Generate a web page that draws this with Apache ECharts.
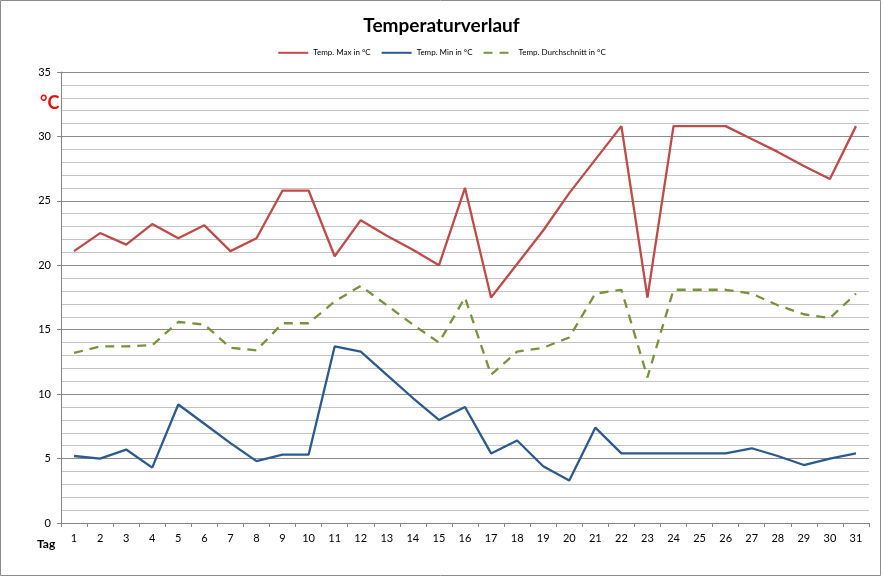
<!DOCTYPE html>
<html><head><meta charset="utf-8">
<script src="https://cdn.jsdelivr.net/npm/echarts@6/dist/echarts.min.js"></script>
<style>html,body{margin:0;padding:0;background:#fff}#c{width:883px;height:578px}</style>
</head><body><div id="c"></div>
<script>
const days = ['1','2','3','4','5','6','7','8','9','10','11','12','13','14','15','16','17','18','19','20','21','22','23','24','25','26','27','28','29','30','31'];
const tempMax = [21.1,22.5,21.6,23.2,22.1,23.1,21.1,22.1,25.8,25.8,20.7,23.5,22.3,21.2,20.0,26.0,17.5,20.1,22.7,25.6,28.2,30.8,17.5,30.8,30.8,30.8,29.8,28.8,27.7,26.7,30.8];
const tempMin = [5.2,5.0,5.7,4.3,9.2,7.7,6.2,4.8,5.3,5.3,13.7,13.3,11.5,9.7,8.0,9.0,5.4,6.4,4.4,3.3,7.4,5.4,5.4,5.4,5.4,5.4,5.8,5.2,4.5,5.0,5.4];
const tempAvg = [13.2,13.7,13.7,13.8,15.6,15.4,13.6,13.4,15.5,15.5,17.2,18.4,16.9,15.4,14.0,17.5,11.5,13.3,13.6,14.4,17.8,18.1,11.3,18.1,18.1,18.1,17.8,16.9,16.2,15.9,17.8];
const names = ['Temp. Max in °C','Temp. Min in °C','Temp. Durchschnitt in °C'];
const ff = 'Lato, "Open Sans", sans-serif';
const chart = echarts.init(document.getElementById('c'));
chart.setOption({
  animation:false,
  textStyle:{fontFamily:ff},
  title:{text:'Temperaturverlauf',left:'center',top:11,textStyle:{fontSize:19,fontWeight:'bold',color:'#000',fontFamily:ff}},
  legend:{top:43,left:'center',itemWidth:30,itemHeight:12,itemGap:10,textStyle:{fontSize:8,color:'#000'},
    itemStyle:{opacity:0},
    data:names},
  grid:{left:61,right:14,top:72,bottom:55},
  graphic:[
    {type:'rect',shape:{x:0.5,y:0.5,width:880,height:575},style:{fill:'none',stroke:'#8c8c8c',lineWidth:1},silent:true},
    {type:'text',left:40,top:94,style:{text:'°C',fill:'#e01010',font:'bold 18px '+ff}},
    {type:'text',left:37,top:538,style:{text:'Tag',fill:'#000',font:'bold 12px '+ff}}
  ],
  xAxis:{type:'category',data:days,boundaryGap:true,
    axisLine:{lineStyle:{color:'#868686'}},
    axisTick:{show:true,length:4,lineStyle:{color:'#868686'},alignWithLabel:false},
    axisLabel:{color:'#000',fontSize:11,margin:10},
    splitLine:{show:false}},
  yAxis:{type:'value',min:0,max:35,interval:5,
    axisLine:{show:true,lineStyle:{color:'#868686'}},
    axisTick:{show:true,length:4,lineStyle:{color:'#868686'}},
    axisLabel:{color:'#000',fontSize:11,margin:10},
    splitLine:{show:true,lineStyle:{color:'#8c8c8c',width:1}},
    minorTick:{show:false,splitNumber:5},
    minorSplitLine:{show:true,lineStyle:{color:'#c4c4c4',width:1}}},
  series:[
    {name:names[0],type:'line',data:tempMax,symbol:'none',lineStyle:{color:'#BE4B48',width:2.3},itemStyle:{color:'#BE4B48'}},
    {name:names[1],type:'line',data:tempMin,symbol:'none',lineStyle:{color:'#2C5A8C',width:2.3},itemStyle:{color:'#2C5A8C'}},
    {name:names[2],type:'line',data:tempAvg,symbol:'none',lineStyle:{color:'#77933C',width:2.3,type:[9,7]},itemStyle:{color:'#77933C'}}
  ]
});
</script></body></html>
